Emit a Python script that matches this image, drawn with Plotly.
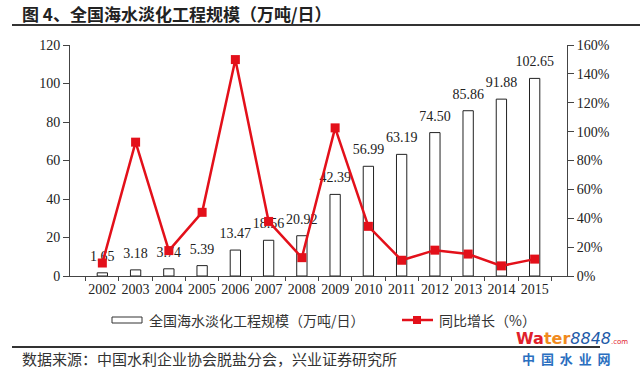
import plotly.graph_objects as go

years = ["2002", "2003", "2004", "2005", "2006", "2007", "2008",
         "2009", "2010", "2011", "2012", "2013", "2014", "2015"]
capacity = [1.65, 3.18, 3.74, 5.39, 13.47, 18.56, 20.92,
            42.39, 56.99, 63.19, 74.50, 85.86, 91.88, 102.65]
growth = [9, 92.7, 17.6, 44.1, 149.9, 37.8, 12.7,
          102.6, 34.4, 10.9, 17.9, 15.2, 7.0, 11.7]
capacity_labels = ["%.2f" % v for v in capacity]

W, H = 640, 369
ML, MR, MT, MB = 70, 73, 45, 93
PW, PH = W - ML - MR, H - MT - MB


def px(x):
    return (x - ML) / PW


def py(y):
    return 1 - (y - MT) / PH


SERIF = "Liberation Serif, Times New Roman, serif"
CJK = "Noto Sans CJK SC, sans-serif"
RED = "#E3101A"

fig = go.Figure()
fig.add_trace(go.Bar(
    x=years, y=capacity, name="全国海水淡化工程规模（万吨/日）",
    marker=dict(color="white", line=dict(color="#222222", width=1)),
    width=0.31, showlegend=False, hoverinfo="skip",
))
fig.add_trace(go.Scatter(
    x=years, y=capacity, mode="markers+text", text=capacity_labels,
    textposition="top center",
    marker=dict(size=12, opacity=0),
    textfont=dict(family=SERIF, size=14, color="#222222"),
    cliponaxis=False, showlegend=False, hoverinfo="skip",
))
fig.add_trace(go.Scatter(
    x=years, y=growth, yaxis="y2", name="同比增长（%）", mode="lines+markers",
    line=dict(color=RED, width=2.5),
    marker=dict(symbol="square", size=9, color=RED),
    cliponaxis=False, showlegend=False,
))

axis_font = dict(family=SERIF, size=14, color="#222222")
fig.update_layout(
    width=W, height=H, margin=dict(l=ML, r=MR, t=MT, b=MB),
    paper_bgcolor="white", plot_bgcolor="white",
    xaxis=dict(type="category", showline=True, linecolor="#444444", linewidth=1,
               ticks="outside", tickson="boundaries", ticklen=4, tickcolor="#444444",
               tickfont=axis_font, tickangle=0, showgrid=False, zeroline=False,
               automargin=False),
    yaxis=dict(range=[0, 120], dtick=20, showline=True, linecolor="#444444", linewidth=1,
               ticks="outside", ticklen=6, tickcolor="#444444", tickfont=axis_font,
               showgrid=False, zeroline=False, automargin=False),
    yaxis2=dict(range=[0, 160], dtick=20, overlaying="y", side="right",
                ticksuffix="%", showline=True, linecolor="#444444", linewidth=1,
                ticks="outside", ticklen=6, tickcolor="#444444", tickfont=axis_font,
                showgrid=False, zeroline=False, automargin=False),
)

shapes = [
    dict(type="line", xref="paper", yref="paper", x0=px(12), x1=px(640),
         y0=py(25), y1=py(25), line=dict(color="#333333", width=2)),
    dict(type="line", xref="paper", yref="paper", x0=px(12), x1=px(600),
         y0=py(347), y1=py(347), line=dict(color="#333333", width=2)),
    dict(type="rect", xref="paper", yref="paper", x0=px(112), x1=px(142),
         y0=py(323), y1=py(317), line=dict(color="#333333", width=1), fillcolor="white"),
    dict(type="line", xref="paper", yref="paper", x0=px(402), x1=px(433),
         y0=py(320), y1=py(320), line=dict(color=RED, width=2.5)),
    dict(type="rect", xref="paper", yref="paper", x0=px(413), x1=px(421),
         y0=py(324), y1=py(316), line=dict(color=RED, width=0), fillcolor=RED),
]
annotations = [
    dict(text="<b>图 4、全国海水淡化工程规模（万吨/日）</b>", x=px(20), y=py(13),
         xref="paper", yref="paper", xanchor="left", yanchor="middle", showarrow=False,
         font=dict(family=CJK, size=17, color="#222222")),
    dict(text="全国海水淡化工程规模（万吨/日）", x=px(147), y=py(320),
         xref="paper", yref="paper", xanchor="left", yanchor="middle", showarrow=False,
         font=dict(family=CJK, size=14, color="#333333")),
    dict(text="同比增长（%）", x=px(437), y=py(320),
         xref="paper", yref="paper", xanchor="left", yanchor="middle", showarrow=False,
         font=dict(family=CJK, size=14, color="#333333")),
    dict(text="数据来源：中国水利企业协会脱盐分会，兴业证券研究所", x=px(20), y=py(358),
         xref="paper", yref="paper", xanchor="left", yanchor="middle", showarrow=False,
         font=dict(family=CJK, size=15, color="#333333")),
    dict(text="<b><span style='color:#E0202A'>Wa</span><span style='color:#F08A1E'>ter</span></b>"
              "<i><span style='color:#1E5AA8'>8848</span></i>"
              "<span style='color:#E0202A;font-size:7px'>.com</span>",
         x=px(514), y=py(338), xref="paper", yref="paper", xanchor="left", yanchor="middle",
         showarrow=False, font=dict(family="DejaVu Sans, sans-serif", size=16, color="#1E5AA8")),
    dict(text="<b>中  国  水  业  网</b>", x=px(520), y=py(358),
         xref="paper", yref="paper", xanchor="left", yanchor="middle", showarrow=False,
         font=dict(family=CJK, size=13, color="#2A6FC0")),
]
fig.update_layout(shapes=shapes, annotations=annotations)

fig.write_html("out.html", config={"displayModeBar": False},
               post_script="document.body.style.margin='0';document.body.style.overflow='hidden';")
